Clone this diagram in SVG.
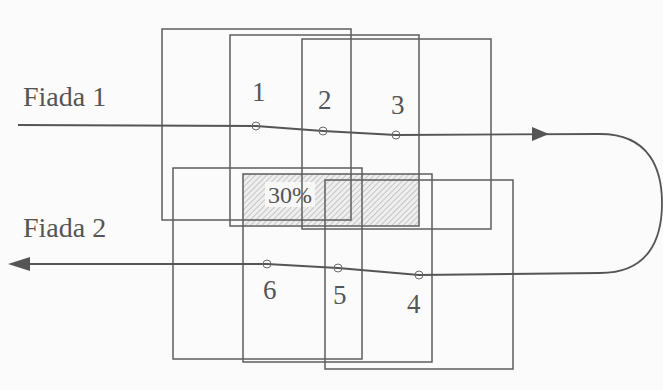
<svg xmlns="http://www.w3.org/2000/svg" width="663" height="390" viewBox="0 0 663 390">
<style>
.ph{fill:none;stroke:#5e5e5e;stroke-width:1.5}
.ln{fill:none;stroke:#555;stroke-width:1.8}
.pt{fill:none;stroke:#6a6a6a;stroke-width:1}
.t{font-family:"Liberation Serif","Times New Roman",serif;fill:#555}
.n{font-size:27px}
</style>
<defs>
<pattern id="hatch" width="4" height="4" patternUnits="userSpaceOnUse" patternTransform="rotate(45)">
<rect width="4" height="4" fill="#efefef"/>
<line x1="0" y1="0" x2="0" y2="4" stroke="#9a9a9a" stroke-width="1"/>
</pattern>
</defs>
<rect width="663" height="390" fill="#fbfbfb"/>
<g id="overlap">
<rect x="243" y="174" width="176" height="51" fill="url(#hatch)"/>
<rect x="265" y="182" width="50" height="25" fill="#f7f7f7"/>
<text class="t" x="268" y="203" font-size="24">30%</text>
</g>
<g id="photo1"><rect class="ph" x="162" y="29" width="189" height="191"/><text class="t n" x="252" y="101">1</text></g>
<g id="photo2"><rect class="ph" x="230" y="35" width="189" height="191"/><text class="t n" x="318" y="109">2</text></g>
<g id="photo3"><rect class="ph" x="302" y="39" width="189" height="190"/><text class="t n" x="391" y="114">3</text></g>
<g id="photo6"><rect class="ph" x="173" y="168" width="189" height="191"/><text class="t n" x="263" y="299">6</text></g>
<g id="photo5"><rect class="ph" x="243" y="174" width="189" height="188"/><text class="t n" x="333" y="304">5</text></g>
<g id="photo4"><rect class="ph" x="325" y="180" width="188" height="189"/><text class="t n" x="407" y="313">4</text></g>
<g id="labels">
<text class="t" x="23" y="106" font-size="28">Fiada 1</text>
<text class="t" x="23" y="237" font-size="28">Fiada 2</text>
</g>
<g id="connectors">
<path class="ln" d="M18,125 L256,126 L323,131 L396,135 L600,134 C650,134 662,170 662,203 C662,240 648,273 600,273 L419,275 L338,268 L267,264 L28,264"/>
<polygon points="532,127 549,134 532,141" fill="#555"/>
<polygon points="8,264 30,257 30,271" fill="#555"/>
<circle class="pt" cx="256" cy="126" r="4"/>
<circle class="pt" cx="323" cy="131" r="4"/>
<circle class="pt" cx="396" cy="135" r="4"/>
<circle class="pt" cx="267" cy="264" r="4"/>
<circle class="pt" cx="338" cy="268" r="4"/>
<circle class="pt" cx="419" cy="275" r="4"/>
</g>
</svg>
